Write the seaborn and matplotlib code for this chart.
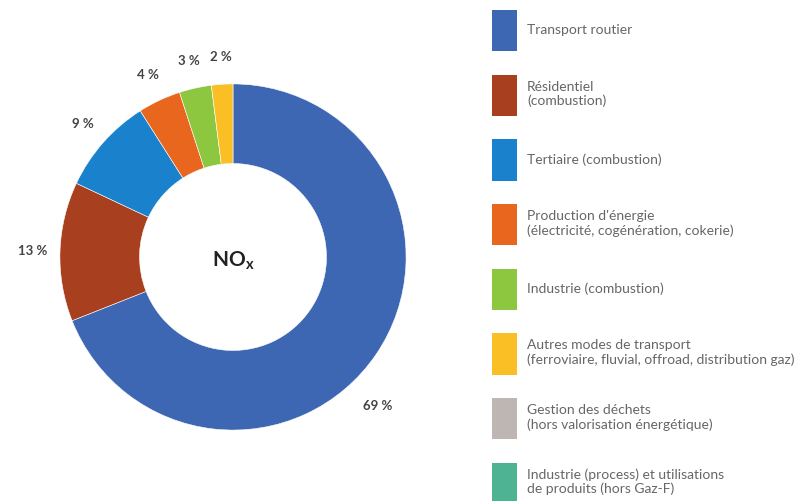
import matplotlib
matplotlib.use("Agg")
import matplotlib.pyplot as plt
from matplotlib.patches import Patch
import numpy as np
import seaborn as sns

# data
categories = [
    "Transport routier",
    "Résidentiel\n(combustion)",
    "Tertiaire (combustion)",
    "Production d'énergie\n(électricité, cogénération, cokerie)",
    "Industrie (combustion)",
    "Autres modes de transport\n(ferroviaire, fluvial, offroad, distribution gaz)",
    "Gestion des déchets\n(hors valorisation énergétique)",
    "Industrie (process) et utilisations\nde produits (hors Gaz-F)",
]
shares = [69, 13, 9, 4, 3, 2, 0, 0]
colors = ["#3d66b3", "#a8401f", "#1a82cc", "#e8661e", "#8dc63f", "#fbbf26", "#bdb6b3", "#4db393"]

sns.set_style("white")
plt.rcParams["font.family"] = ["Lato", "DejaVu Sans"]

fig = plt.figure(figsize=(7.94, 5.01), dpi=100)

# donut axes: centre at (233, 257) px from top-left, outer radius 173 px
side = 450
ax = fig.add_axes([(233 - side / 2) / 794, (501 - 257 - side / 2) / 501, side / 794, side / 501])

vals = [v for v in shares if v > 0]
cols = [c for v, c in zip(shares, colors) if v > 0]
wedges, texts = ax.pie(
    vals, colors=cols, startangle=90, counterclock=False,
    labels=[f"{v} %" for v in vals], labeldistance=1.16,
    wedgeprops=dict(width=0.46, edgecolor="white", linewidth=0.4),
    textprops=dict(fontsize=9.5, fontweight="bold", color="#444444"),
)
# nudge the big slice label toward the bottom like the original
theta = np.deg2rad(-46)
texts[0].set_position((1.2 * np.cos(theta), 1.2 * np.sin(theta)))
for t in texts:
    t.set_ha("center")
    t.set_va("center")

ax.text(0, -0.02, r"NO$_\mathregular{x}$", ha="center", va="center",
        fontsize=15, fontweight="bold", color="#222222")
ax.set_xlim(-1.3, 1.3)
ax.set_ylim(-1.3, 1.3)
ax.set_aspect("equal")
ax.axis("off")

# legend
handles = [Patch(facecolor=c, edgecolor="none") for c in colors]
fig.legend(handles, categories, loc="upper left",
           bbox_to_anchor=(492 / 794, 1 - 10 / 501),
           frameon=False, fontsize=10, labelcolor="#666666",
           handlelength=1.8, handleheight=4.2, handletextpad=0.72,
           labelspacing=1.68, borderpad=0, borderaxespad=0)

fig.savefig("out.png", dpi=100)
